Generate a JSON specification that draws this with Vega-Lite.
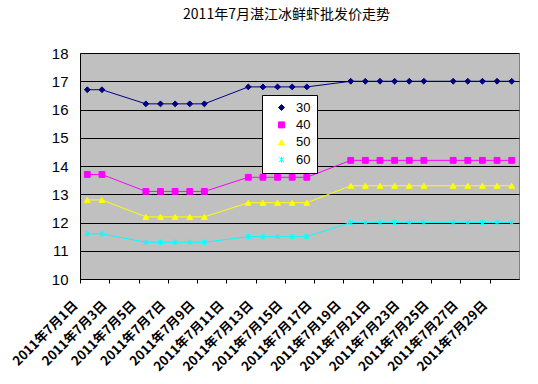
{
  "$schema": "https://vega.github.io/schema/vega-lite/v6.json",
  "width": 439,
  "height": 226,
  "autosize": "none",
  "padding": {"left": 80, "top": 53, "right": 19, "bottom": 105},
  "background": "white",
  "title": {
    "text": "2011年7月湛江冰鲜虾批发价走势",
    "font": "Noto Sans CJK SC",
    "fontSize": 14,
    "fontWeight": "normal",
    "color": "black",
    "offset": 24,
    "dx": -13
  },
  "config": {
    "view": {"fill": "#C0C0C0", "stroke": "#808080", "strokeWidth": 1},
    "axis": {"domainColor": "black", "tickColor": "black", "labelColor": "black"}
  },
  "data": {
    "values": [
      {"day": 1, "series": "30", "price": 16.7}, {"day": 2, "series": "30", "price": 16.7},
      {"day": 5, "series": "30", "price": 16.2}, {"day": 6, "series": "30", "price": 16.2},
      {"day": 7, "series": "30", "price": 16.2}, {"day": 8, "series": "30", "price": 16.2},
      {"day": 9, "series": "30", "price": 16.2}, {"day": 12, "series": "30", "price": 16.8},
      {"day": 13, "series": "30", "price": 16.8}, {"day": 14, "series": "30", "price": 16.8},
      {"day": 15, "series": "30", "price": 16.8}, {"day": 16, "series": "30", "price": 16.8},
      {"day": 19, "series": "30", "price": 17.0}, {"day": 20, "series": "30", "price": 17.0},
      {"day": 21, "series": "30", "price": 17.0}, {"day": 22, "series": "30", "price": 17.0},
      {"day": 23, "series": "30", "price": 17.0}, {"day": 24, "series": "30", "price": 17.0},
      {"day": 26, "series": "30", "price": 17.0}, {"day": 27, "series": "30", "price": 17.0},
      {"day": 28, "series": "30", "price": 17.0}, {"day": 29, "series": "30", "price": 17.0},
      {"day": 30, "series": "30", "price": 17.0},

      {"day": 1, "series": "40", "price": 13.7}, {"day": 2, "series": "40", "price": 13.7},
      {"day": 5, "series": "40", "price": 13.1}, {"day": 6, "series": "40", "price": 13.1},
      {"day": 7, "series": "40", "price": 13.1}, {"day": 8, "series": "40", "price": 13.1},
      {"day": 9, "series": "40", "price": 13.1}, {"day": 12, "series": "40", "price": 13.6},
      {"day": 13, "series": "40", "price": 13.6}, {"day": 14, "series": "40", "price": 13.6},
      {"day": 15, "series": "40", "price": 13.6}, {"day": 16, "series": "40", "price": 13.6},
      {"day": 19, "series": "40", "price": 14.2}, {"day": 20, "series": "40", "price": 14.2},
      {"day": 21, "series": "40", "price": 14.2}, {"day": 22, "series": "40", "price": 14.2},
      {"day": 23, "series": "40", "price": 14.2}, {"day": 24, "series": "40", "price": 14.2},
      {"day": 26, "series": "40", "price": 14.2}, {"day": 27, "series": "40", "price": 14.2},
      {"day": 28, "series": "40", "price": 14.2}, {"day": 29, "series": "40", "price": 14.2},
      {"day": 30, "series": "40", "price": 14.2},

      {"day": 1, "series": "50", "price": 12.8}, {"day": 2, "series": "50", "price": 12.8},
      {"day": 5, "series": "50", "price": 12.2}, {"day": 6, "series": "50", "price": 12.2},
      {"day": 7, "series": "50", "price": 12.2}, {"day": 8, "series": "50", "price": 12.2},
      {"day": 9, "series": "50", "price": 12.2}, {"day": 12, "series": "50", "price": 12.7},
      {"day": 13, "series": "50", "price": 12.7}, {"day": 14, "series": "50", "price": 12.7},
      {"day": 15, "series": "50", "price": 12.7}, {"day": 16, "series": "50", "price": 12.7},
      {"day": 19, "series": "50", "price": 13.3}, {"day": 20, "series": "50", "price": 13.3},
      {"day": 21, "series": "50", "price": 13.3}, {"day": 22, "series": "50", "price": 13.3},
      {"day": 23, "series": "50", "price": 13.3}, {"day": 24, "series": "50", "price": 13.3},
      {"day": 26, "series": "50", "price": 13.3}, {"day": 27, "series": "50", "price": 13.3},
      {"day": 28, "series": "50", "price": 13.3}, {"day": 29, "series": "50", "price": 13.3},
      {"day": 30, "series": "50", "price": 13.3},

      {"day": 1, "series": "60", "price": 11.6}, {"day": 2, "series": "60", "price": 11.6},
      {"day": 5, "series": "60", "price": 11.3}, {"day": 6, "series": "60", "price": 11.3},
      {"day": 7, "series": "60", "price": 11.3}, {"day": 8, "series": "60", "price": 11.3},
      {"day": 9, "series": "60", "price": 11.3}, {"day": 12, "series": "60", "price": 11.5},
      {"day": 13, "series": "60", "price": 11.5}, {"day": 14, "series": "60", "price": 11.5},
      {"day": 15, "series": "60", "price": 11.5}, {"day": 16, "series": "60", "price": 11.5},
      {"day": 19, "series": "60", "price": 12.0}, {"day": 20, "series": "60", "price": 12.0},
      {"day": 21, "series": "60", "price": 12.0}, {"day": 22, "series": "60", "price": 12.0},
      {"day": 23, "series": "60", "price": 12.0}, {"day": 24, "series": "60", "price": 12.0},
      {"day": 26, "series": "60", "price": 12.0}, {"day": 27, "series": "60", "price": 12.0},
      {"day": 28, "series": "60", "price": 12.0}, {"day": 29, "series": "60", "price": 12.0},
      {"day": 30, "series": "60", "price": 12.0}
    ]
  },
  "encoding": {
    "x": {
      "field": "day",
      "type": "quantitative",
      "scale": {"domain": [0.5, 30.5], "nice": false, "zero": false},
      "axis": {
        "title": null,
        "values": [1, 3, 5, 7, 9, 11, 13, 15, 17, 19, 21, 23, 25, 27, 29, 31],
        "labelExpr": "datum.value > 30 ? '' : '2011年7月' + datum.value + '日'",
        "grid": false,
        "tickOffset": -7.3,
        "labelOffset": -5,
        "tickSize": 4,
        "labelAngle": -45,
        "labelAlign": "right",
        "labelBaseline": "middle",
        "labelPadding": 20,
        "labelFont": "Noto Sans CJK SC",
        "labelFontSize": 13,
        "labelFontWeight": "bold",
        "labelOverlap": false,
        "labelBound": false
      }
    },
    "y": {
      "field": "price",
      "type": "quantitative",
      "scale": {"domain": [10, 18], "nice": false, "zero": false},
      "axis": {
        "title": null,
        "values": [10, 11, 12, 13, 14, 15, 16, 17, 18],
        "grid": true,
        "gridColor": "black",
        "gridOpacity": 1,
        "gridWidth": 1,
        "ticks": false,
        "labelPadding": 12,
        "labelFont": "Liberation Sans",
        "labelFontSize": 15,
        "labelFontWeight": "normal"
      }
    }
  },
  "layer": [
    {
      "mark": {"type": "line", "strokeWidth": 1},
      "encoding": {
        "color": {
          "field": "series",
          "type": "nominal",
          "scale": {"domain": ["30", "40", "50", "60"], "range": ["#000080", "#FF00FF", "#FFFF00", "#00FFFF"]}
        },
        "detail": {"field": "series"}
      }
    },
    {
      "mark": {"type": "point", "filled": true, "size": 34, "opacity": 1, "strokeWidth": 1},
      "encoding": {
        "color": {
          "field": "series",
          "type": "nominal",
          "scale": {"domain": ["30", "40", "50", "60"], "range": ["#000080", "#FF00FF", "#FFFF00", "#00FFFF"]},
          "legend": {
            "title": null,
            "orient": "none",
            "legendX": 182,
            "legendY": 42,
            "fillColor": "white",
            "strokeColor": "black",
            "padding": 6,
            "rowPadding": 3.4,
            "symbolSize": 36,
            "symbolOffset": 7,
            "labelOffset": 8,
            "labelFont": "Liberation Sans",
            "labelFontSize": 13,
            "labelColor": "black",
            "symbolStrokeWidth": 1
          }
        },
        "shape": {
          "field": "series",
          "type": "nominal",
          "scale": {"domain": ["30", "40", "50", "60"], "range": ["diamond", "square", "triangle-up", "M-0.8,-0.8L0.8,0.8M-0.8,0.8L0.8,-0.8M0,-1V1"]}
        },
        "stroke": {
          "field": "series",
          "type": "nominal",
          "scale": {"domain": ["30", "40", "50", "60"], "range": ["#000080", "#FF00FF", "#FFFF00", "#00FFFF"]},
          "legend": null
        }
      }
    }
  ]
}
